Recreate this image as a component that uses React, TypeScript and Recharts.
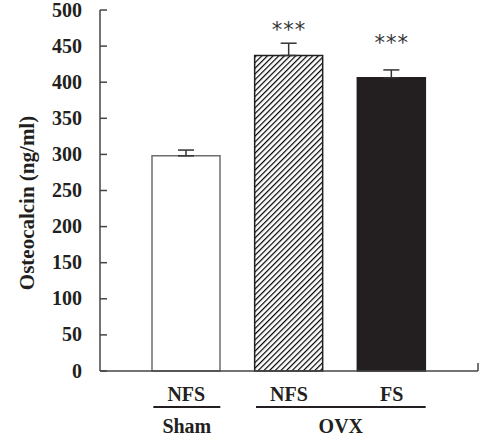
import React from 'react';
import { BarChart, Bar, XAxis, YAxis, Cell, ErrorBar, ReferenceDot } from 'recharts';

// values
const ids = ['Sham-NFS', 'OVX-NFS', 'OVX-FS'];
const treatments = ['NFS', 'NFS', 'FS'];
const groups = ['Sham', 'OVX', 'OVX'];
const osteocalcin = [298, 437, 406];
const semUp = [8, 17, 11];
const starLevel = [null, 478, 460];
const yTicks = [0, 50, 100, 150, 200, 250, 300, 350, 400, 450, 500];

const fills = ['#ffffff', 'url(#hatch)', '#231f20'];
const strokes = ['#6d6d6d', '#231f20', '#231f20'];

const data = ids.map((id, i) => ({
  id,
  value: osteocalcin[i],
  err: [0, semUp[i]],
}));

const INK = '#231f20';
const FONT = '"Liberation Serif", "Times New Roman", serif';
const FS = 20;
const STEP = (378 - 70) / 3;

const YTick = (props: any) => {
  const { x, y, payload } = props;
  return (
    <g>
      <line x1={x + 18} x2={x + 25} y1={y} y2={y} stroke="#444" strokeWidth={1.5} />
      <text x={x} y={y + 6.5} textAnchor="end" fontFamily={FONT} fontWeight="bold" fontSize={FS} fill={INK}>
        {payload.value}
      </text>
    </g>
  );
};

const XTick = (props: any) => {
  const { y, payload } = props;
  const i = payload.index;
  const cx = payload.coordinate;
  let group = null;
  if (i === 0 || groups[i] !== groups[i - 1]) {
    let j = i;
    while (j + 1 < groups.length && groups[j + 1] === groups[i]) j++;
    const x1 = cx - 33;
    const x2 = cx + (j - i) * STEP + 34;
    group = (
      <g>
        <line x1={x1} x2={x2} y1={y + 36} y2={y + 36} stroke={INK} strokeWidth={2} />
        <text x={(x1 + x2) / 2} y={y + 62} textAnchor="middle" fontFamily={FONT} fontWeight="bold" fontSize={FS} fill={INK}>
          {groups[i]}
        </text>
      </g>
    );
  }
  return (
    <g>
      <text x={cx} y={y + 29.5} textAnchor="middle" fontFamily={FONT} fontWeight="bold" fontSize={FS} fill={INK}>
        {treatments[i]}
      </text>
      {group}
      {i === ids.length - 1 && (
        <line x1={cx + STEP / 2 + 35} x2={cx + STEP / 2 + 35} y1={y} y2={y - 8} stroke="#444" strokeWidth={1.5} />
      )}
    </g>
  );
};

const Stars = (props: any) => (
  <text x={props.cx} y={props.cy + 11} textAnchor="middle" fontFamily='"DejaVu Sans", sans-serif' fontSize={21} fill="#333" letterSpacing={1}>
    ***
  </text>
);

export default function App() {
  return (
    <div style={{ position: 'absolute', left: 0, top: 0, width: 481, height: 441, background: '#fff' }}>
      <BarChart width={481} height={441} data={data} margin={{ top: 10, right: 3, left: 0, bottom: 0 }}>
        <defs>
          <pattern id="hatch" width={4} height={4} patternUnits="userSpaceOnUse" patternTransform="rotate(45)">
            <rect width={4} height={4} fill="#fff" />
            <line x1={0} y1={0} x2={0} y2={4} stroke="#000" strokeWidth={2.4} />
          </pattern>
        </defs>
        <YAxis
          width={100}
          domain={[0, 500]}
          ticks={yTicks}
          interval={0}
          tickSize={0}
          tickMargin={18}
          tickLine={false}
          axisLine={{ stroke: '#444', strokeWidth: 1.5 }}
          tick={<YTick />}
          label={{
            content: () => (
              <text
                x={34}
                y={203}
                transform="rotate(-90 34 203)"
                textAnchor="middle"
                fontFamily={FONT}
                fontWeight="bold"
                fontSize={21}
                fill={INK}
              >
                Osteocalcin (ng/ml)
              </text>
            ),
          }}
        />
        <XAxis
          dataKey="id"
          height={70}
          padding={{ left: 35, right: 35 }}
          interval={0}
          tickSize={0}
          tickMargin={0}
          tickLine={false}
          axisLine={{ stroke: '#444', strokeWidth: 1.5 }}
          tick={<XTick />}
        />
        <Bar dataKey="value" barSize={68} isAnimationActive={false} strokeWidth={1.5}>
          {data.map((d, i) => (
            <Cell key={d.id} fill={fills[i]} stroke={strokes[i]} />
          ))}
          <ErrorBar dataKey="err" direction="y" width={8} stroke="#333" strokeWidth={1.5} />
        </Bar>
        {ids.map((id, i) =>
          starLevel[i] == null ? null : (
            <ReferenceDot key={id} x={id} y={starLevel[i] as number} r={0} shape={<Stars />} ifOverflow="visible" />
          )
        )}
      </BarChart>
    </div>
  );
}
